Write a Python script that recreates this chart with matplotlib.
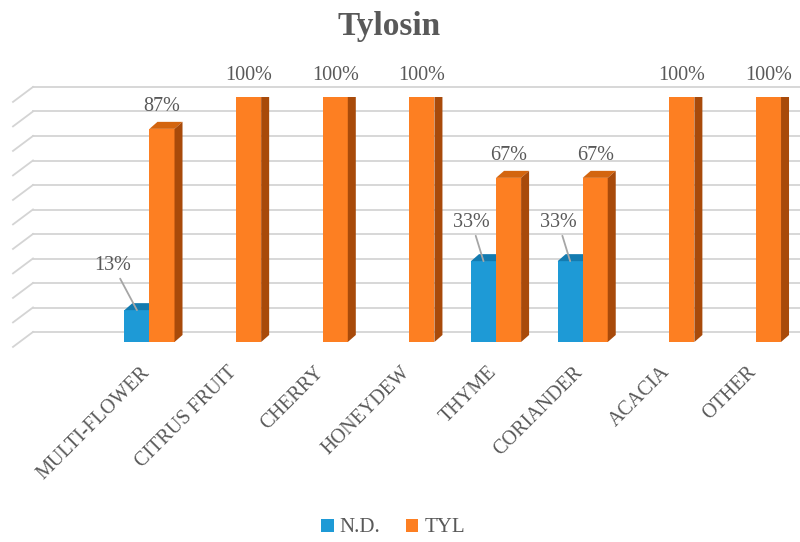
import numpy as np
import matplotlib
matplotlib.use("Agg")
import matplotlib.pyplot as plt
from matplotlib.patches import Polygon, Patch
from matplotlib.transforms import blended_transform_factory, offset_copy

plt.rcParams['font.family'] = ['Liberation Serif', 'DejaVu Serif']

# data
categories = ['MULTI-FLOWER', 'CITRUS FRUIT', 'CHERRY', 'HONEYDEW',
              'THYME', 'CORIANDER', 'ACACIA', 'OTHER']
series_names = ['N.D.', 'TYL']
nd_values = [13, 0, 0, 0, 33, 33, 0, 0]
tyl_values = [87, 100, 100, 100, 67, 67, 100, 100]
grid_values = list(range(0, 101, 10))

# style
TEXT = '#595959'
GRID = '#d4d4d4'
BLUE = ('#1e9ad6', '#137bb0')            # front, top
ORANGE = ('#fd7f22', '#d3650f', '#a84a0a')  # front, top, side
DEPTH_PX = (8, 7)      # bar depth offset in pixels
WALL_PX = 10           # back wall raised above the front

fig = plt.figure(figsize=(8, 5.42), dpi=100)
ax = fig.add_axes([13 / 800, 200 / 542, 787 / 800, 245 / 542])
ax.set_xlim(-1.575, 7.508)
ax.set_ylim(0, 100)
ax.axis('off')

# back wall gridlines plus the side-wall diagonals
wall = offset_copy(blended_transform_factory(ax.transAxes, ax.transData),
                   fig=fig, x=0, y=WALL_PX, units='dots')
side = blended_transform_factory(ax.transAxes, ax.transData)
for g in grid_values:
    ax.plot([0.0254, 1.0], [g, g], color=GRID, lw=1.3, transform=wall,
            zorder=1, clip_on=False)
    ax.plot([0.0, 0.0254], [g - 2.0, g + 4.1], color=GRID, lw=1.3,
            transform=side, zorder=1, clip_on=False)


def depth_in_data():
    p0 = ax.transData.transform((0, 0))
    inv = ax.transData.inverted()
    p1 = inv.transform((p0[0] + DEPTH_PX[0], p0[1] + DEPTH_PX[1]))
    return p1[0], p1[1]


ddx, ddy = depth_in_data()
w = 0.289
x = np.arange(len(categories))


def bar3d(xc, h, colors, z):
    if h <= 0:
        return
    x0, x1 = xc - w / 2, xc + w / 2
    ax.bar(xc, h, width=w, color=colors[0], zorder=z, linewidth=0)
    top = Polygon([(x0, h), (x0 + ddx, h + ddy), (x1 + ddx, h + ddy), (x1, h)],
                  closed=True, facecolor=colors[1], edgecolor='none', zorder=z)
    ax.add_patch(top)
    if len(colors) > 2:
        sd = Polygon([(x1, 0), (x1 + ddx, ddy), (x1 + ddx, h + ddy), (x1, h)],
                     closed=True, facecolor=colors[2], edgecolor='none', zorder=z)
        ax.add_patch(sd)


for i in range(len(categories)):
    bar3d(x[i] - w / 2, nd_values[i], BLUE, 3 + i)
    bar3d(x[i] + w / 2, tyl_values[i], ORANGE, 3 + i)

# data labels
nd_label_offsets = {0: (-24, 45), 4: (-12, 39), 5: (-12, 39)}
for i, v in enumerate(nd_values):
    if v > 0:
        ax.annotate(f'{v}%', (x[i] - w / 2, v), xytext=nd_label_offsets[i],
                    textcoords='offset pixels', ha='center', va='center',
                    fontsize=14.5, color=TEXT, zorder=20,
                    arrowprops=dict(arrowstyle='-', color='#a6a6a6', lw=1.3,
                                    shrinkA=1, shrinkB=0))
for i, v in enumerate(tyl_values):
    ax.annotate(f'{v}%', (x[i] + w / 2, v), xytext=(0, 22),
                textcoords='offset pixels', ha='center', va='center',
                fontsize=14.5, color=TEXT, zorder=20)

# category labels
for i, c in enumerate(categories):
    ax.annotate(c, (x[i], 0), xytext=(-9, -21), textcoords='offset pixels',
                rotation=45, rotation_mode='anchor', ha='right', va='top',
                fontsize=14.5, color=TEXT, annotation_clip=False)

fig.text(389 / 800, 1 - 35 / 542, 'Tylosin', ha='center', va='baseline',
         fontsize=24, fontweight='bold', color=TEXT)

handles = [Patch(facecolor=BLUE[0]), Patch(facecolor=ORANGE[0])]
fig.legend(handles, series_names, loc='center', bbox_to_anchor=(393 / 800, 1 - 528 / 542),
           ncol=2, frameon=False, handlelength=0.6, handleheight=0.6,
           handletextpad=0.3, columnspacing=1.2, labelcolor=TEXT,
           prop={'size': 15})

fig.savefig('out.png', dpi=100)
